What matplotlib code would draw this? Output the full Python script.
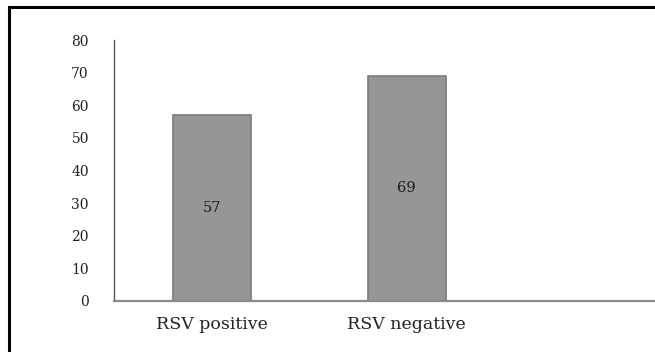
### bar chart: RSV positive vs negative

import matplotlib
matplotlib.use("Agg")
import matplotlib.pyplot as plt

categories = ["RSV positive", "RSV negative", ""]
counts = [57, 69, 0]
yticks = [0, 10, 20, 30, 40, 50, 60, 70, 80]


def main():
    plt.rcParams['font.family'] = ['DejaVu Serif']
    fig = plt.figure(figsize=(6.55, 3.52), dpi=100)
    # axes runs off the right edge, like the cropped original
    ax = fig.add_axes([114/655, 51/352, 585/655, 261/352])

    xs = list(range(len(categories)))
    bars = ax.bar(xs[:2], counts[:2], width=0.4, color='#969696',
                  edgecolor='#7a7a7a', linewidth=1.2)
    ax.bar_label(bars, labels=[str(c) for c in counts[:2]], label_type='center',
                 fontsize=10.5, color='#1e1e1e')

    ax.set_xlim(-0.5, 2.5)
    ax.set_ylim(0, 80)
    ax.set_yticks(yticks)
    ax.set_xticks(xs[:2])
    ax.set_xticklabels(categories[:2])
    ax.tick_params(axis='y', length=0, pad=18, labelsize=10, labelcolor='#222222')
    ax.tick_params(axis='x', length=0, pad=11, labelsize=12.5, labelcolor='#222222')

    for side in ['top', 'right']:
        ax.spines[side].set_visible(False)
    ax.spines['left'].set_color('#555555')
    ax.spines['left'].set_linewidth(1.0)
    ax.spines['bottom'].set_color('#8a8a8a')
    ax.spines['bottom'].set_linewidth(1.6)

    # black frame, only left and top edges show in the crop
    frame = plt.Rectangle((9/655, -0.2), 1.2, 1.2 - 7/352, transform=fig.transFigure,
                          fill=False, edgecolor='black', linewidth=2.2, clip_on=False)
    fig.add_artist(frame)

    fig.savefig("out.png", dpi=100)


if __name__ == "__main__":
    main()
